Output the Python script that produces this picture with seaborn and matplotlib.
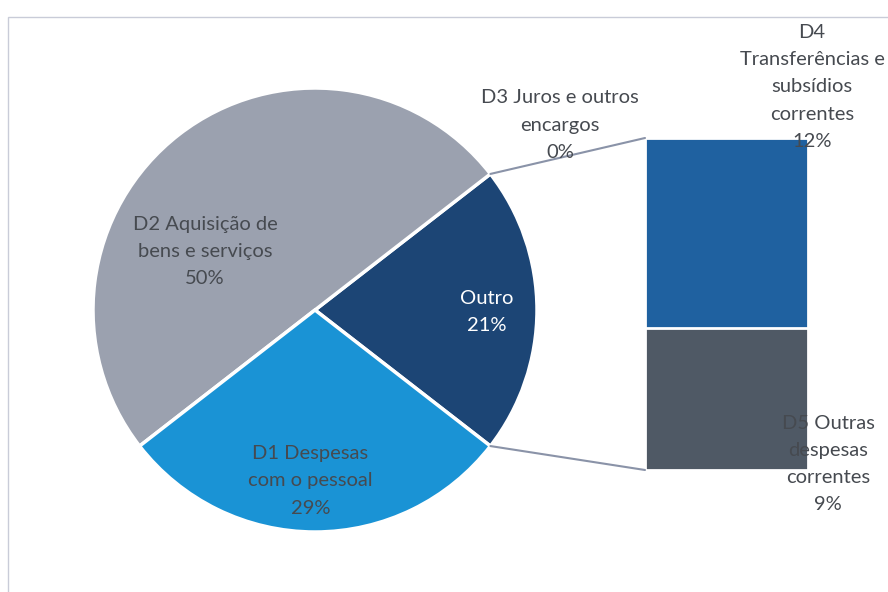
import matplotlib.pyplot as plt
import numpy as np
import pandas as pd
import seaborn as sns
from matplotlib.patches import ConnectionPatch, Rectangle

# pie slices (Outro = D3 + D4 + D5)
pie_labels = ["Outro", "D2 Aquisição de\nbens e serviços", "D1 Despesas\ncom o pessoal"]
pie_values = [21, 50, 29]
pie_colors = ["#1C4575", "#9BA1AF", "#1A93D5"]

# breakdown of "Outro"
bar_labels = ["D3 Juros e outros\nencargos", "D4\nTransferências e\nsubsídios\ncorrentes",
              "D5 Outras\ndespesas\ncorrentes"]
bar_values = [0, 12, 9]
bar_colors = ["#3A6FA8", "#1F61A0", "#4F5965"]

TEXT = "#464a50"

sns.set_theme(style="white")
plt.rcParams["font.family"] = ["Lato", "DejaVu Sans"]

fig = plt.figure(figsize=(8.88, 5.92), dpi=100)
fig.patch.set_facecolor("white")
fig.patches.append(Rectangle((8 / 888, -0.1), 1.0, 1.1 - 17 / 592, transform=fig.transFigure,
                             fill=False, edgecolor="#C9CCD8", linewidth=1.0))

# pie
ax_pie = fig.add_axes([93 / 888, 60 / 592, 444 / 888, 444 / 592])
outro_angle = pie_values[0] / sum(pie_values) * 360
ax_pie.pie(pie_values, colors=pie_colors, startangle=-outro_angle / 2, counterclock=True,
           wedgeprops=dict(edgecolor="white", linewidth=2.5))
ax_pie.set_xlim(-1, 1)
ax_pie.set_ylim(-1, 1)
ax_pie.axis("off")

fs = 14.5
ls = 1.72
ax_pie.text(0.775, -0.01, f"{pie_labels[0]}\n{pie_values[0]}%", ha="center", va="center",
            color="white", fontsize=fs, linespacing=ls)
ax_pie.text(-0.495, 0.265, f"{pie_labels[1]}\n{pie_values[1]}%", ha="center", va="center",
            color=TEXT, fontsize=fs, linespacing=ls)
ax_pie.text(-0.02, -0.77, f"{pie_labels[2]}\n{pie_values[2]}%", ha="center", va="center",
            color=TEXT, fontsize=fs, linespacing=ls)

# stacked bar of the "Outro" slice
df = pd.DataFrame({"grupo": ["Outro"] * len(bar_labels), "item": bar_labels, "valor": bar_values})
df["acum"] = df["valor"][::-1].cumsum()[::-1]

ax_bar = fig.add_axes([645 / 888, 122 / 592, 163 / 888, 332 / 592])
for i in range(1, len(df)):
    sns.barplot(data=df.iloc[[i]], x="grupo", y="acum", color=bar_colors[i], width=0.8,
                saturation=1, edgecolor="white", linewidth=2, ax=ax_bar)
ax_bar.set_xlim(-0.4, 0.4)
ax_bar.set_ylim(0, sum(bar_values))
ax_bar.axis("off")

# connector lines
th = np.deg2rad(outro_angle / 2)
for yp, yb in [(np.sin(th), sum(bar_values)), (-np.sin(th), 0)]:
    con = ConnectionPatch(xyA=(np.cos(th), yp), coordsA=ax_pie.transData,
                          xyB=(-0.4, yb), coordsB=ax_bar.transData,
                          color="#8A93A8", linewidth=1.5)
    fig.add_artist(con)

# bar labels
fig.text(560 / 888, 1 - 125 / 592, f"{bar_labels[0]}\n{bar_values[0]}%", ha="center", va="center",
         color=TEXT, fontsize=fs, linespacing=ls)
fig.text(812 / 888, 1 - 87 / 592, f"{bar_labels[1]}\n{bar_values[1]}%", ha="center", va="center",
         color=TEXT, fontsize=fs, linespacing=ls)
fig.text(828 / 888, 1 - 464 / 592, f"{bar_labels[2]}\n{bar_values[2]}%", ha="center", va="center",
         color=TEXT, fontsize=fs, linespacing=ls)

fig.savefig("out.png", dpi=100)
